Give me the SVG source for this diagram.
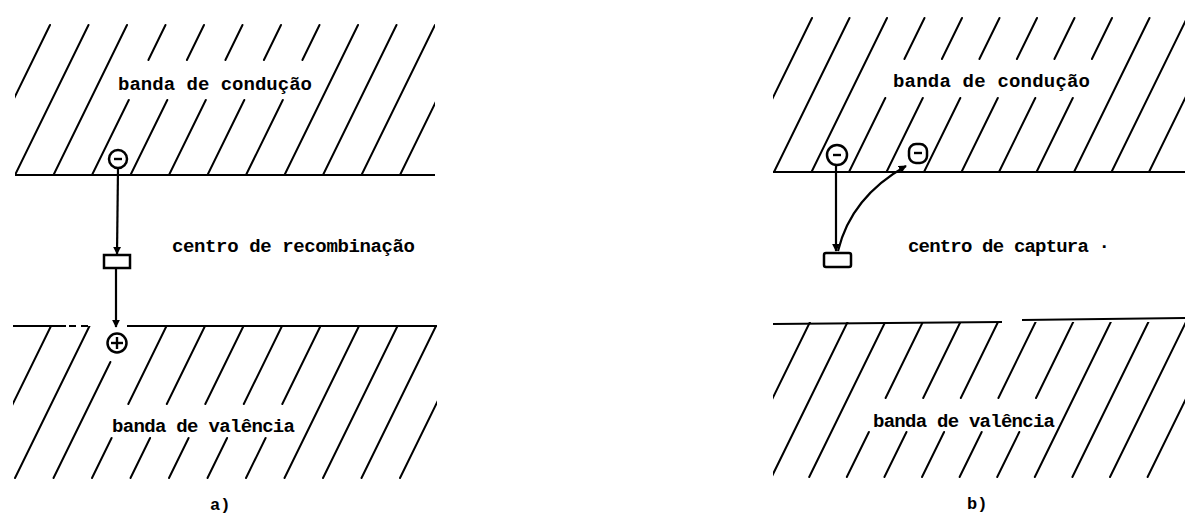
<svg xmlns="http://www.w3.org/2000/svg" width="1185" height="516" viewBox="0 0 1185 516">
<style>
  .hatch { stroke: #000; stroke-width: 2; fill: none; stroke-linecap: round; }
  .edge { stroke: #000; stroke-width: 2; fill: none; }
  .lbl { font-family: "Liberation Mono", "DejaVu Sans Mono", monospace; font-weight: bold; font-size: 19px; fill: #000; }
  .tag { font-family: "Liberation Mono", "DejaVu Sans Mono", monospace; font-weight: bold; font-size: 17px; fill: #000; }
  .conn { stroke: #000; stroke-width: 2.2; fill: none; }
  .carrier { stroke: #000; stroke-width: 2.5; fill: #fff; }
  .sign { stroke: #000; stroke-width: 2.4; fill: none; }
  .trap { stroke: #000; stroke-width: 2.5; fill: #fff; }
</style>
<defs>
  <clipPath id="clipA1"><rect x="15" y="20" width="420" height="155"/></clipPath>
  <clipPath id="clipA2"><rect x="13" y="326" width="424" height="155"/></clipPath>
  <clipPath id="clipB1"><rect x="773" y="14" width="412" height="158"/></clipPath>
  <clipPath id="clipB2"><rect x="773" y="322" width="412" height="158"/></clipPath>
  <marker id="arr" viewBox="0 0 10 10" refX="9" refY="5" markerWidth="8" markerHeight="8" markerUnits="userSpaceOnUse" orient="auto">
    <path d="M0,0 L10,5 L0,10 z" fill="#000"/>
  </marker>
</defs>
<rect width="1185" height="516" fill="#fff"/>

<!-- Panel a: conduction band -->
<g id="band-conducao-a">
  <g class="hatch" clip-path="url(#clipA1)">
    <line x1="50" y1="25" x2="-23.5" y2="175"/>
    <line x1="88.5" y1="25" x2="15" y2="175"/>
    <line x1="127" y1="25" x2="53.5" y2="175"/>
    <line x1="165.5" y1="25" x2="148.4" y2="60"/><line x1="128.8" y1="100" x2="92" y2="175"/>
    <line x1="204" y1="25" x2="186.9" y2="60"/><line x1="167.3" y1="100" x2="130.5" y2="175"/>
    <line x1="242.5" y1="25" x2="225.4" y2="60"/><line x1="205.8" y1="100" x2="169" y2="175"/>
    <line x1="281" y1="25" x2="263.9" y2="60"/><line x1="244.3" y1="100" x2="207.5" y2="175"/>
    <line x1="319.5" y1="25" x2="302.4" y2="60"/><line x1="282.8" y1="100" x2="246" y2="175"/>
    <line x1="358" y1="25" x2="284.5" y2="175"/>
    <line x1="396.5" y1="25" x2="323" y2="175"/>
    <line x1="435" y1="25" x2="361.5" y2="175"/>
    <line x1="473.5" y1="25" x2="400" y2="175"/>
  </g>
  <line class="edge" x1="15" y1="175" x2="435" y2="175"/>
  <text class="lbl" x="118" y="90" textLength="194" lengthAdjust="spacing">banda de condução</text>
</g>

<!-- Panel a: gap label -->
<g id="gap-a">
  <text class="lbl" x="172" y="252" textLength="243" lengthAdjust="spacing">centro de recombinação</text>
</g>

<!-- Panel a: valence band -->
<g id="band-valencia-a">
  <g class="hatch" clip-path="url(#clipA2)">
    <line x1="51" y1="326" x2="-23.5" y2="478"/>
    <line x1="89.5" y1="326" x2="15" y2="478"/>
    <line x1="110.4" y1="362" x2="53.5" y2="478"/>
    <line x1="166.5" y1="326" x2="128.3" y2="404"/><line x1="111.6" y1="438" x2="92" y2="478"/>
    <line x1="205" y1="326" x2="166.8" y2="404"/><line x1="150.1" y1="438" x2="130.5" y2="478"/>
    <line x1="243.5" y1="326" x2="205.3" y2="404"/><line x1="188.6" y1="438" x2="169" y2="478"/>
    <line x1="282" y1="326" x2="243.8" y2="404"/><line x1="227.1" y1="438" x2="207.5" y2="478"/>
    <line x1="320.5" y1="326" x2="282.3" y2="404"/><line x1="265.6" y1="438" x2="246" y2="478"/>
    <line x1="359" y1="326" x2="284.5" y2="478"/>
    <line x1="397.5" y1="326" x2="323" y2="478"/>
    <line x1="436" y1="326" x2="361.5" y2="478"/>
    <line x1="474.5" y1="326" x2="400" y2="478"/>
  </g>
  <line class="edge" x1="13" y1="326" x2="66" y2="326"/>
  <line class="edge" x1="69" y1="326" x2="76" y2="326"/>
  <line class="edge" x1="81" y1="326" x2="88" y2="326"/>
  <line class="edge" x1="127" y1="326" x2="437" y2="326"/>
  <text class="lbl" x="112" y="432" textLength="183" lengthAdjust="spacing">banda de valência</text>
  <text class="tag" x="210" y="510">a)</text>
</g>

<!-- Panel b: conduction band -->
<g id="band-conducao-b">
  <g class="hatch" clip-path="url(#clipB1)">
    <line x1="812" y1="18" x2="736.5" y2="172"/>
    <line x1="849.5" y1="18" x2="774" y2="172"/>
    <line x1="887" y1="18" x2="811.5" y2="172"/>
    <line x1="924.5" y1="18" x2="904.4" y2="59"/><line x1="885.3" y1="98" x2="849" y2="172"/>
    <line x1="962" y1="18" x2="941.9" y2="59"/><line x1="922.8" y1="98" x2="886.5" y2="172"/>
    <line x1="999.5" y1="18" x2="979.4" y2="59"/><line x1="960.3" y1="98" x2="924" y2="172"/>
    <line x1="1037" y1="18" x2="1016.9" y2="59"/><line x1="997.8" y1="98" x2="961.5" y2="172"/>
    <line x1="1074.5" y1="18" x2="1054.4" y2="59"/><line x1="1035.3" y1="98" x2="999" y2="172"/>
    <line x1="1112" y1="18" x2="1091.9" y2="59"/><line x1="1072.8" y1="98" x2="1036.5" y2="172"/>
    <line x1="1149.5" y1="18" x2="1074" y2="172"/>
    <line x1="1187" y1="18" x2="1111.5" y2="172"/>
    <line x1="1224.5" y1="18" x2="1149" y2="172"/>
  </g>
  <line class="edge" x1="773" y1="172" x2="1185" y2="172"/>
  <text class="lbl" x="893" y="87" textLength="197" lengthAdjust="spacing">banda de condução</text>
</g>

<!-- Panel b: gap label -->
<g id="gap-b">
  <text class="lbl" x="908" y="252" textLength="202" lengthAdjust="spacing">centro de captura ·</text>
</g>

<!-- Panel b: valence band -->
<g id="band-valencia-b">
  <g class="hatch" clip-path="url(#clipB2)">
    <line x1="810" y1="322" x2="734" y2="477"/>
    <line x1="847.6" y1="322" x2="771.6" y2="477"/>
    <line x1="885.2" y1="322" x2="809.2" y2="477"/>
    <line x1="922.8" y1="322" x2="885.6" y2="398"/><line x1="868.9" y1="432" x2="846.8" y2="477"/>
    <line x1="960.4" y1="322" x2="923.2" y2="398"/><line x1="906.5" y1="432" x2="884.4" y2="477"/>
    <line x1="998" y1="322" x2="960.8" y2="398"/><line x1="944.1" y1="432" x2="922" y2="477"/>
    <line x1="1035.6" y1="322" x2="998.4" y2="398"/><line x1="981.7" y1="432" x2="959.6" y2="477"/>
    <line x1="1073.2" y1="322" x2="1036" y2="398"/><line x1="1019.3" y1="432" x2="997.2" y2="477"/>
    <line x1="1110.8" y1="322" x2="1034.8" y2="477"/>
    <line x1="1148.4" y1="322" x2="1072.4" y2="477"/>
    <line x1="1186" y1="322" x2="1110" y2="477"/>
    <line x1="1223.6" y1="322" x2="1147.6" y2="477"/>
  </g>
  <line class="edge" x1="773" y1="324" x2="1002" y2="322"/>
  <line class="edge" x1="1022" y1="320" x2="1185" y2="318"/>
  <text class="lbl" x="873" y="427" textLength="182" lengthAdjust="spacing">banda de valência</text>
  <text class="tag" x="967" y="509">b)</text>
</g>

<!-- Connectors -->
<g id="connectors">
  <line class="conn" x1="118" y1="169" x2="117" y2="254" marker-end="url(#arr)"/>
  <line class="conn" x1="116" y1="268" x2="116" y2="327" marker-end="url(#arr)"/>
  <line class="conn" x1="836" y1="166" x2="836" y2="251" marker-end="url(#arr)"/>
  <path class="conn" d="M838,251 Q851,197 906,166" marker-end="url(#arr)"/>
</g>

<!-- Panel a nodes -->
<g id="electron-a">
  <circle class="carrier" cx="118" cy="159" r="9"/>
  <line class="sign" x1="114" y1="159" x2="122" y2="159"/>
</g>
<g id="trap-a">
  <rect class="trap" x="104" y="255" width="26" height="13"/>
</g>
<g id="hole-a">
  <circle class="carrier" cx="117" cy="343" r="9.5"/>
  <line class="sign" x1="111" y1="343" x2="123" y2="343"/>
  <line class="sign" x1="117" y1="337" x2="117" y2="349"/>
</g>

<!-- Panel b nodes -->
<g id="electron-b1">
  <circle class="carrier" cx="837" cy="155" r="10"/>
  <line class="sign" x1="833" y1="155" x2="841" y2="155"/>
</g>
<g id="electron-b2">
  <rect class="carrier" x="909" y="144" width="18" height="19" rx="7"/>
  <line class="sign" x1="914" y1="153" x2="922" y2="153"/>
</g>
<g id="trap-b">
  <rect class="trap" x="824" y="253" width="27" height="14" rx="2"/>
</g>
</svg>
